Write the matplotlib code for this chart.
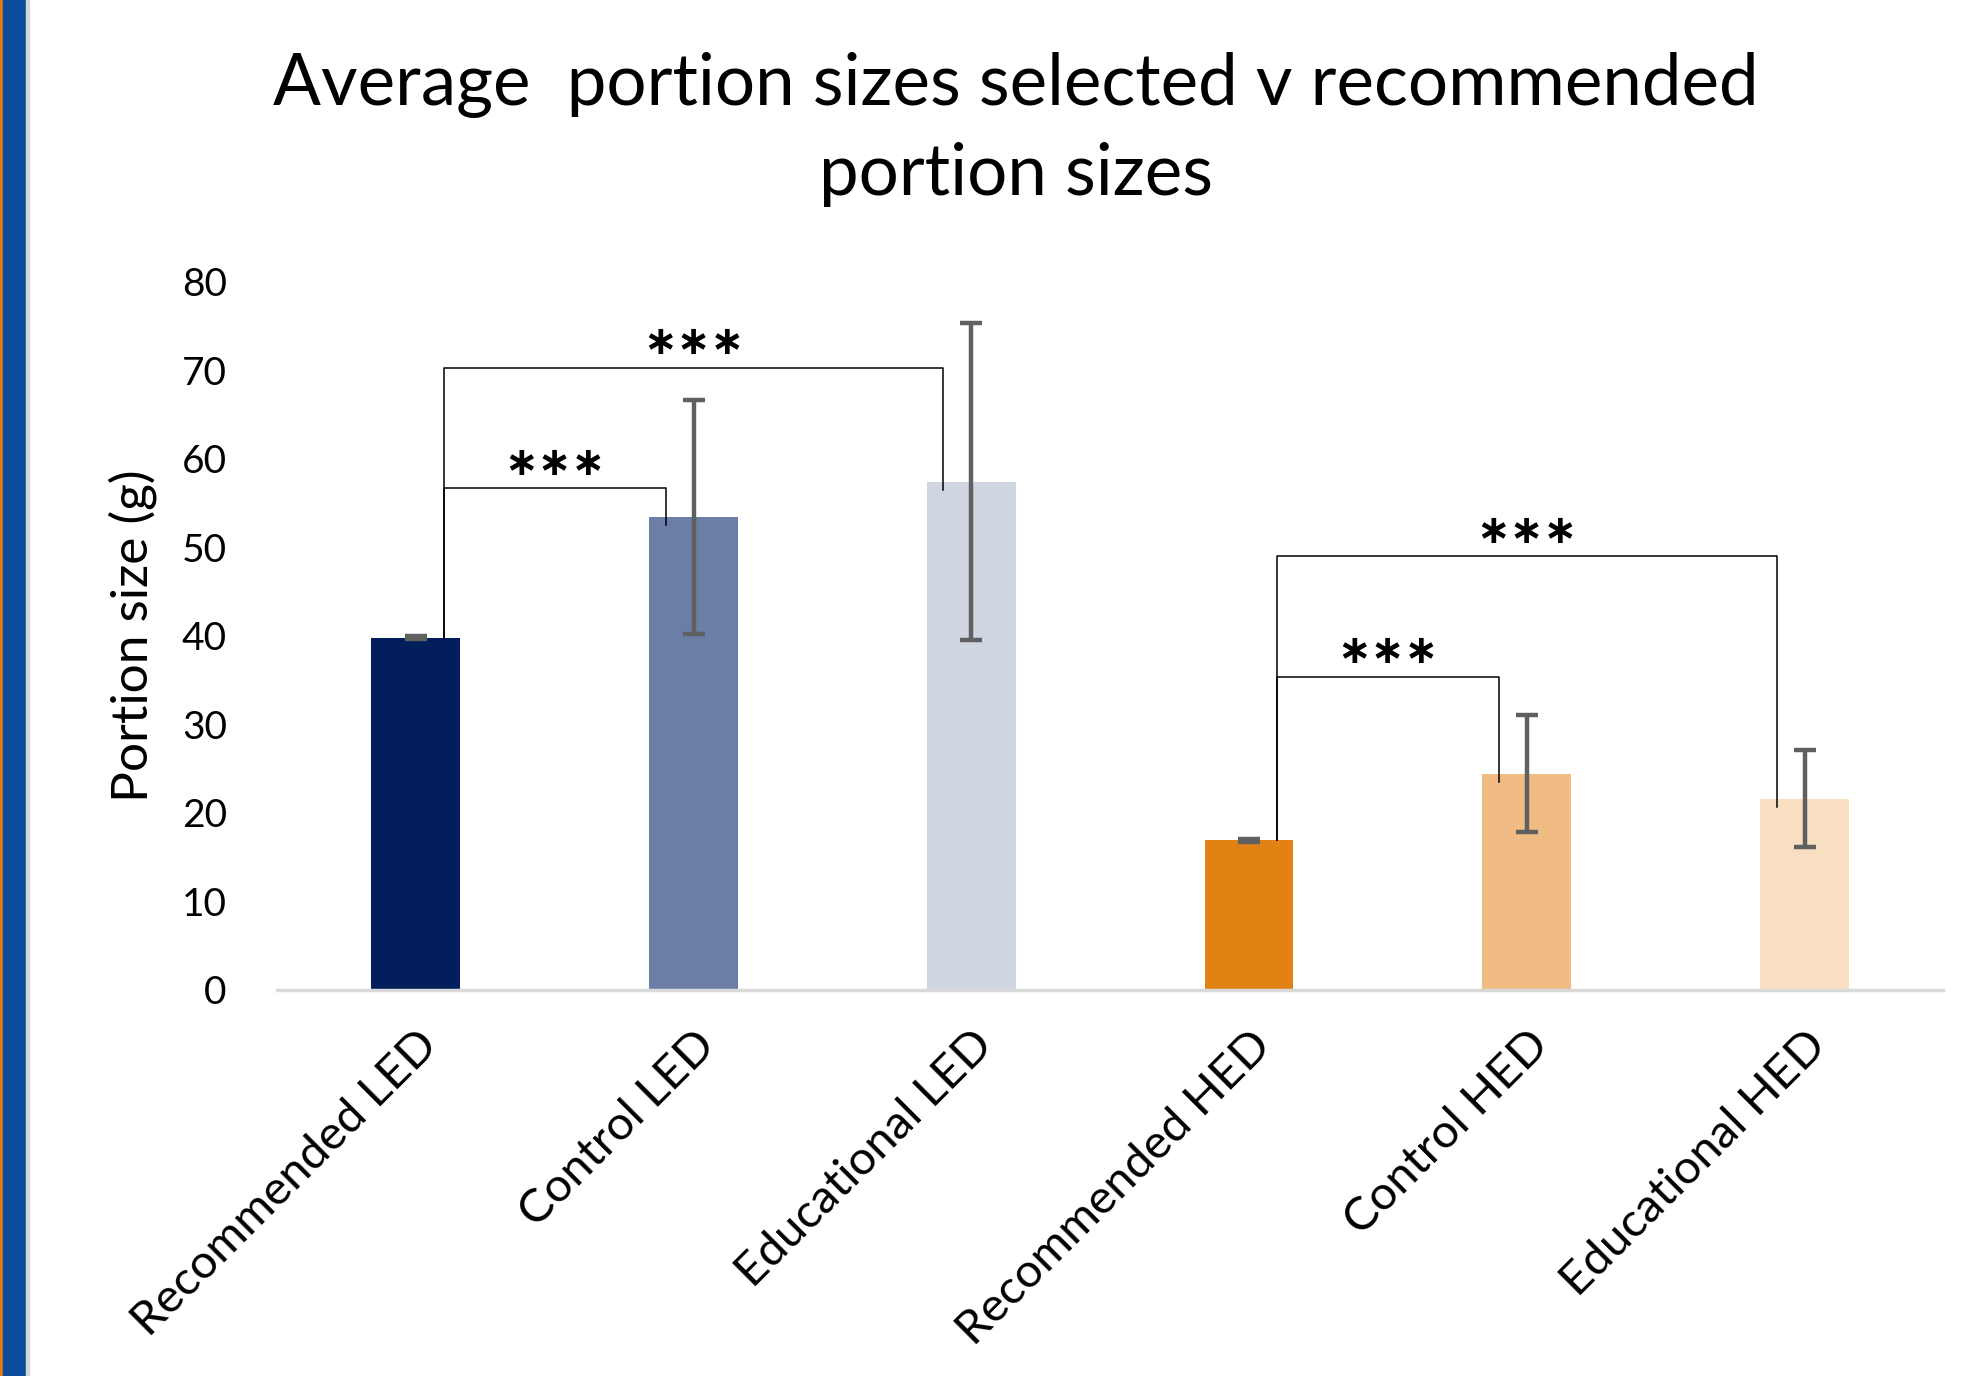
import numpy as np
import matplotlib.pyplot as plt
from matplotlib.patches import Rectangle

plt.rcParams['font.family'] = ['Lato', 'DejaVu Sans']

categories = ['Recommended LED', 'Control LED', 'Educational LED',
              'Recommended HED', 'Control HED', 'Educational HED']
means = [39.8, 53.4, 57.4, 16.9, 24.4, 21.6]
errors = [0.2, 13.2, 17.9, 0.2, 6.6, 5.5]
colors = ['#021F5B', '#6B7EA5', '#CFD5E1', '#E38214', '#F0BC84', '#F8DFC2']

# significance brackets: (left bar, right bar, bracket height, label)
brackets = [(0, 1, 56.7, '***'), (0, 2, 70.3, '***'),
            (3, 4, 35.4, '***'), (3, 5, 49.0, '***')]

fig = plt.figure(figsize=(19.72, 13.76), dpi=100)
ax = fig.add_axes([0.1404, 0.2806, 0.8451, 0.5147])

x = np.arange(len(categories))
ax.bar(x, means, width=0.32, color=colors, zorder=2)
ax.errorbar(x, means, yerr=errors, fmt='none', ecolor='#606060',
            elinewidth=3.2, capsize=8, capthick=3.2, zorder=3)

# bracket lines with stars
off = 0.1
for i, j, h, lab in brackets:
    xl, xr = x[i] + off, x[j] - off
    ax.plot([xl, xl, xr, xr], [means[i], h, h, means[j] - 0.9],
            color='black', lw=1.1, zorder=4)
    ax.text((xl + xr) / 2, h + 0.5, '∗∗∗', ha='center', va='bottom',
            fontsize=29, fontweight='bold', family='DejaVu Sans', zorder=4)

ax.set_xlim(-0.5, 5.5)
ax.set_ylim(0, 80)
ax.set_yticks(np.arange(0, 81, 10))
ax.tick_params(axis='y', length=0, labelsize=28, pad=36)
ax.tick_params(axis='x', length=0, pad=24)
ax.set_xticks(x)
ax.set_xticklabels(categories, rotation=45, ha='right', va='top',
                   rotation_mode='anchor', fontsize=34)
for spine in ['top', 'right', 'left']:
    ax.spines[spine].set_visible(False)
ax.spines['bottom'].set_color('#D9D9D9')
ax.spines['bottom'].set_linewidth(2.5)
ax.set_ylabel('Portion size (g)', fontsize=37)
ax.yaxis.set_label_coords(-0.072, 0.5)

fig.text(0.515, 0.906, 'Average  portion sizes selected v recommended\nportion sizes',
         ha='center', va='center', fontsize=51, linespacing=1.46)

# coloured border down the left edge
fig.patches.append(Rectangle((0, 0), 3 / 1972, 1, transform=fig.transFigure,
                             color='#E8750E', zorder=0))
fig.patches.append(Rectangle((3 / 1972, 0), 23 / 1972, 1, transform=fig.transFigure,
                             color='#0B4C9B', zorder=0))
fig.patches.append(Rectangle((26 / 1972, 0), 3 / 1972, 1, transform=fig.transFigure,
                             color='#D6D6D6', zorder=0))

fig.savefig('out.png', dpi=100)
